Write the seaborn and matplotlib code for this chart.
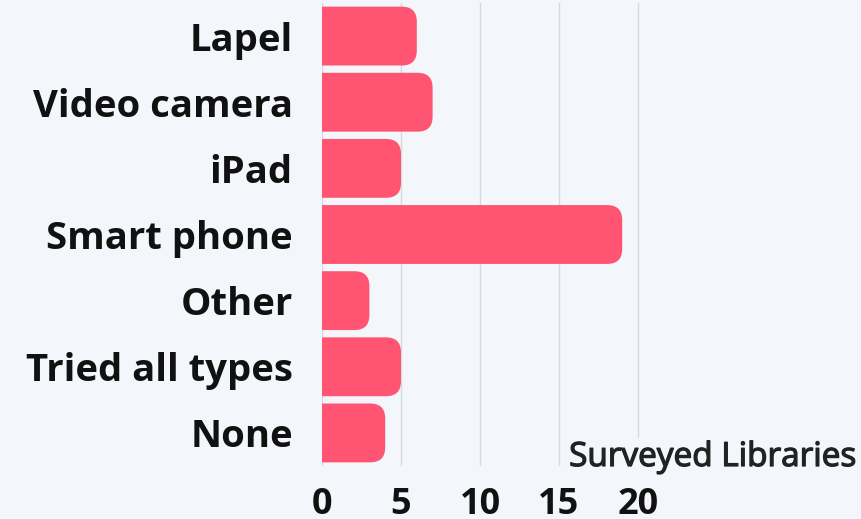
import numpy as np
import pandas as pd
import seaborn as sns
import matplotlib.pyplot as plt
import matplotlib.patheffects as pe
from matplotlib.patches import FancyBboxPatch

# data
devices = ['Lapel', 'Video camera', 'iPad', 'Smart phone', 'Other', 'Tried all types', 'None']
libraries = [6, 7, 5, 19, 3, 5, 4]
xticks = [0, 5, 10, 15, 20]

df = pd.DataFrame({'device': devices, 'libraries': libraries})

bg = '#F3F7FB'
bar_color = '#FF5572'

sns.set_theme(style='white')
plt.rcParams['font.family'] = ['Open Sans', 'DejaVu Sans']

fig = plt.figure(figsize=(8.61, 5.19), dpi=100, facecolor=bg)
W, H = 861, 519
left_px, right_px, top_px, bottom_px = 322, 861, 3, 466
ax = fig.add_axes([left_px / W, 1 - bottom_px / H, (right_px - left_px) / W, (bottom_px - top_px) / H])
ax.set_facecolor(bg)

sns.barplot(ax=ax, data=df, x='libraries', y='device', color=bar_color,
            width=0.89, saturation=1, orient='h')

px_per_unit = 15.8
ax.set_xlim(0, (right_px - left_px) / px_per_unit)
ax.set_ylim(len(devices) - 0.5, -0.5)

# swap rectangles for bars with rounded right ends (left end hidden past x=0)
y_px_per_unit = (bottom_px - top_px) / len(devices)
r = 15 / px_per_unit
aspect = px_per_unit / y_px_per_unit
for p in list(ax.patches):
    x0, y0, w, h = p.get_x(), p.get_y(), p.get_width(), p.get_height()
    p.set_visible(False)
    ax.add_patch(FancyBboxPatch((x0 - 3 * r, y0), w + 3 * r, h,
                                boxstyle=f'round,pad=0,rounding_size={r}',
                                mutation_aspect=aspect, fc=bar_color, ec='none', zorder=3))

ax.set_xticks(xticks)
ax.set_xticklabels([str(t) for t in xticks], fontsize=26, fontweight='bold', color='#111111')
ax.tick_params(axis='x', length=0, pad=15)
ax.tick_params(axis='y', length=0, pad=21, labelsize=27.5)
for lbl in ax.get_yticklabels():
    lbl.set_fontweight('bold')
    lbl.set_color('#111111')

ax.grid(axis='x', color='#d5dae0', linewidth=1, zorder=0)
ax.set_axisbelow(True)
for s in ax.spines.values():
    s.set_visible(False)

ax.set_ylabel('')
ax.set_xlabel('Surveyed Libraries', fontsize=24, color='#222222',
              ha='right', va='baseline',
              bbox=dict(boxstyle='square,pad=0.1', fc=bg, ec='none'),
              path_effects=[pe.withStroke(linewidth=0.9, foreground='#222222')])
ax.xaxis.set_label_coords((857 - left_px) / (right_px - left_px), 0 / (bottom_px - top_px))

fig.savefig('out.png', dpi=100, facecolor=bg)
